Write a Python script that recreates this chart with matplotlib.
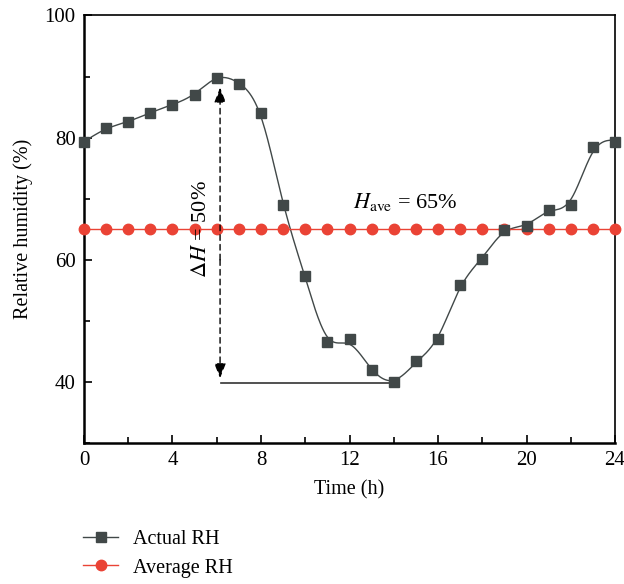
import numpy as np
import matplotlib
matplotlib.use("Agg")
import matplotlib.pyplot as plt
from matplotlib.ticker import MultipleLocator

plt.rcParams['font.family'] = ['Liberation Serif', 'DejaVu Serif']
plt.rcParams['mathtext.fontset'] = 'stix'

hours = list(range(25))
actual_rh = [79.3, 81.5, 82.6, 84.1, 85.4, 87.0, 89.8, 88.8, 84.1, 68.9,
             57.3, 46.5, 47.0, 42.0, 40.0, 43.4, 47.0, 55.8, 60.2, 64.8,
             65.6, 68.2, 69.0, 78.5, 79.3]
average_rh = [65.0] * 25

SQ_COLOR = '#414848'
RED = '#EA4335'


def smooth_values(y, lam=0.05):
    """Penalised least squares smoothing (second differences)."""
    y = np.asarray(y, float)
    n = len(y)
    D = np.diff(np.eye(n), 2, axis=0)
    return np.linalg.solve(np.eye(n) + lam * D.T @ D, y)


def natural_cubic(x, y, xs):
    x = np.asarray(x, float)
    y = np.asarray(y, float)
    n = len(x)
    h = np.diff(x)
    A = np.zeros((n, n))
    b = np.zeros(n)
    A[0, 0] = A[-1, -1] = 1
    for i in range(1, n - 1):
        A[i, i - 1] = h[i - 1]
        A[i, i] = 2 * (h[i - 1] + h[i])
        A[i, i + 1] = h[i]
        b[i] = 3 * ((y[i + 1] - y[i]) / h[i] - (y[i] - y[i - 1]) / h[i - 1])
    c = np.linalg.solve(A, b)
    idx = np.clip(np.searchsorted(x, xs) - 1, 0, n - 2)
    dx = xs - x[idx]
    bb = (y[idx + 1] - y[idx]) / h[idx] - h[idx] * (2 * c[idx] + c[idx + 1]) / 3
    dd = (c[idx + 1] - c[idx]) / (3 * h[idx])
    return y[idx] + bb * dx + c[idx] * dx ** 2 + dd * dx ** 3


fig = plt.figure(figsize=(6.24, 5.84), dpi=100)
ax = fig.add_axes([0.1346, 0.2414, 0.8510, 0.7321])

xs = np.linspace(0, 24, 600)
ys = natural_cubic(hours, smooth_values(actual_rh), xs)
ax.plot(xs, ys, color=SQ_COLOR, lw=1.0, zorder=2)
ax.plot(hours, actual_rh, ls='none', marker='s', ms=7.5, color=SQ_COLOR,
        zorder=4, clip_on=False)
ax.plot(hours, average_rh, color=RED, lw=1.0, marker='o', ms=7.5,
        zorder=3, clip_on=False)

# legend proxies
h1, = ax.plot([], [], color=SQ_COLOR, lw=1.0, marker='s', ms=7.5, label='Actual RH')
h2, = ax.plot([], [], color=RED, lw=1.0, marker='o', ms=7.5, label='Average RH')
fig.legend(handles=[h1, h2], loc='upper left', bbox_to_anchor=(0.133, 0.092),
           frameon=False, fontsize=14.5, handlelength=1.75, handletextpad=0.75,
           labelspacing=0.45, borderaxespad=0, borderpad=0)

# amplitude annotation: dashed double arrow plus baseline at the minimum
head = '-|>,head_width=0.35,head_length=0.9'
ax.annotate('', xy=(6.15, 88.2), xytext=(6.15, 60),
            arrowprops=dict(arrowstyle=head, linestyle=(0, (4, 3)),
                            color='black', lw=1.0, shrinkA=0, shrinkB=0))
ax.annotate('', xy=(6.15, 40.6), xytext=(6.15, 60),
            arrowprops=dict(arrowstyle=head, linestyle=(0, (4, 3)),
                            color='black', lw=1.0, shrinkA=0, shrinkB=0))
ax.plot([6.2, 14.0], [39.8, 39.8], color='#333333', lw=1.2, zorder=1)
ax.text(5.3, 65, r'$\Delta H$ = 50%', rotation=90, ha='center', va='center',
        fontsize=16)
ax.text(14.5, 69.4, r'$H_{\mathrm{ave}}$ = 65%', ha='center', va='center',
        fontsize=16)

ax.set_xlim(0, 24)
ax.set_ylim(30, 100)
ax.xaxis.set_major_locator(MultipleLocator(4))
ax.xaxis.set_minor_locator(MultipleLocator(2))
ax.set_yticks([40, 60, 80, 100])
ax.yaxis.set_minor_locator(MultipleLocator(10))
ax.tick_params(which='both', direction='in', top=False, right=False,
               labelsize=15, width=1.2, pad=6)
ax.tick_params(which='major', length=6)
ax.tick_params(which='minor', length=4)
for s in ax.spines.values():
    s.set_linewidth(1.2)
for s in ('left', 'bottom'):
    ax.spines[s].set_linewidth(1.8)
ax.set_xlabel('Time (h)', fontsize=14.5, labelpad=7)
ax.set_ylabel('Relative humidity (%)', fontsize=14.5, labelpad=8)

fig.savefig('out.png', dpi=100)
